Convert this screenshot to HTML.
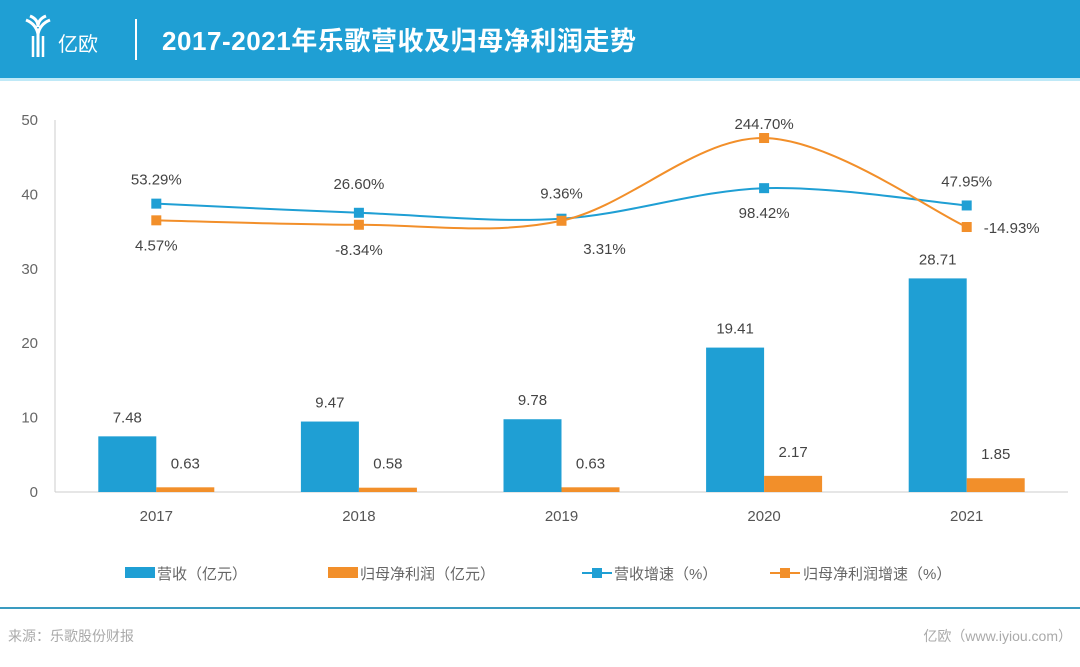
<!DOCTYPE html>
<html><head><meta charset="utf-8"><style>
body{margin:0;width:1080px;height:662px;overflow:hidden;background:#fff;font-family:"Liberation Sans","Noto Sans CJK SC",sans-serif}
svg text{font-family:"Liberation Sans","Noto Sans CJK SC",sans-serif}
</style></head><body>
<svg width="1080" height="662" viewBox="0 0 1080 662">
<rect x="0" y="0" width="1080" height="78" fill="#1f9fd4"/>
<rect x="0" y="78" width="1080" height="3" fill="#bfe9f7"/>
<g stroke="#fff" stroke-width="3" fill="none">
<path d="M26 20 Q36 24 38 34 L38 57 M50 20 Q40 24 38 34 M30 16 Q38 19 38 27 M46 16 Q38 19 38 27"/>
<path d="M33 36 L33 57 M43 36 L43 57" stroke-width="2.5"/>
</g>
<text x="58" y="51" font-size="20" fill="#fff">亿欧</text>
<rect x="135" y="19" width="2" height="41" fill="#fff"/>
<text x="162" y="50" font-size="26" font-weight="bold" fill="#fff" textLength="474">2017-2021年乐歌营收及归母净利润走势</text>
<g id="plot"></g>
<g>
<g><rect x="125" y="567" width="30" height="11" fill="#1f9fd4"/><text x="157" y="579" font-size="15" fill="#666">营收（亿元）</text></g>
<g><rect x="328" y="567" width="30" height="11" fill="#f28f2a"/><text x="360" y="579" font-size="15" fill="#666">归母净利润（亿元）</text></g>
<g><line x1="582" y1="573" x2="612" y2="573" stroke="#1f9fd4" stroke-width="2"/><rect x="592" y="568" width="10" height="10" fill="#1f9fd4"/><text x="614" y="579" font-size="15" fill="#666">营收增速（%）</text></g>
<g><line x1="770" y1="573" x2="800" y2="573" stroke="#f28f2a" stroke-width="2"/><rect x="780" y="568" width="10" height="10" fill="#f28f2a"/><text x="803" y="579" font-size="15" fill="#666">归母净利润增速（%）</text></g>
</g>
<rect x="0" y="607" width="1080" height="2" fill="#3a9bc0"/>
<text x="8" y="641" font-size="14" fill="#aaa">来源：乐歌股份财报</text>
<text x="1072" y="641" font-size="14" fill="#aaa" text-anchor="end">亿欧（www.iyiou.com）</text>
</svg>
<script>
const years=["2017","2018","2019","2020","2021"];
const revenue=[7.48,9.47,9.78,19.41,28.71];
const profit=[0.63,0.58,0.63,2.17,1.85];
const revGrowth=[53.29,26.60,9.36,98.42,47.95];
const profitGrowth=[4.57,-8.34,3.31,244.70,-14.93];
const revGrowthLabels=["53.29%","26.60%","9.36%","98.42%","47.95%"];
const profitGrowthLabels=["4.57%","-8.34%","3.31%","244.70%","-14.93%"];
const yTicks=[0,10,20,30,40,50];

const NS="http://www.w3.org/2000/svg";
const g=document.getElementById('plot');
const X0=55,X1=1068,Y0=492,Y50=120;
const band=(X1-X0)/years.length;
const xc=i=>X0+band*(i+0.5);
const y=v=>Y0-(Y0-Y50)*v/50;
const y2=v=>221.9-0.3428*v;
function el(t,a,txt){const e=document.createElementNS(NS,t);for(const k in a)e.setAttribute(k,a[k]);if(txt!==undefined)e.textContent=txt;g.appendChild(e);return e;}

let e=el('line',{x1:X0,y1:Y50,x2:X0,y2:Y0,stroke:'#ccc'});


e=el('line',{x1:X0,y1:Y0,x2:X1,y2:Y0,stroke:'#ccc'});


yTicks.forEach(t=>{
  const l=el('text',{x:38,y:y(t)+5,'font-size':15,fill:'#666','text-anchor':'end'},String(t));
  
  
});
const bw=58;
years.forEach((yr,i)=>{
  const c=xc(i);
  let l=el('text',{x:c,y:Y0+29,'font-size':15,fill:'#555','text-anchor':'middle'},yr);
  
  
  let r=el('rect',{x:c-bw,y:y(revenue[i]),width:bw,height:Y0-y(revenue[i]),fill:'#1f9fd4'});
  
  
  r=el('rect',{x:c,y:y(profit[i]),width:bw,height:Y0-y(profit[i]),fill:'#f28f2a'});
  
  
  l=el('text',{x:c-bw/2,y:y(revenue[i])-14,'font-size':15,fill:'#444','text-anchor':'middle'},revenue[i].toFixed(2));
  
  
  l=el('text',{x:c+bw/2,y:y(profit[i])-19,'font-size':15,fill:'#444','text-anchor':'middle'},profit[i].toFixed(2));
  
  
});
function smooth(pts){
  let d=`M${pts[0][0]},${pts[0][1]}`;
  for(let i=0;i<pts.length-1;i++){
    const p0=pts[i-1]||pts[i],p1=pts[i],p2=pts[i+1],p3=pts[i+2]||p2;
    const k=6;
    d+=` C${p1[0]+(p2[0]-p0[0])/k},${p1[1]+(p2[1]-p0[1])/k} ${p2[0]-(p3[0]-p1[0])/k},${p2[1]-(p3[1]-p1[1])/k} ${p2[0]},${p2[1]}`;
  }
  return d;
}
function series(vals,color,name){
  const pts=vals.map((v,i)=>[xc(i),y2(v)]);
  const p=el('path',{d:smooth(pts),fill:'none',stroke:color,'stroke-width':2});
  
  
  pts.forEach(pt=>{
    const m=el('rect',{x:pt[0]-5,y:pt[1]-5,width:10,height:10,fill:color});
    
    
  });
  return pts;
}
const rp=series(revGrowth,'#1f9fd4','revenue-growth');
const pp=series(profitGrowth,'#f28f2a','profit-growth');
const revOff=[[0,-19],[0,-24],[0,-20],[0,30],[0,-19]];
const proOff=[[0,30],[0,30],[43,33],[0,-9],[45,6]];
rp.forEach((pt,i)=>{
  const l=el('text',{x:pt[0]+revOff[i][0],y:pt[1]+revOff[i][1],'font-size':15,fill:'#444','text-anchor':'middle'},revGrowthLabels[i]);
  
  
});
pp.forEach((pt,i)=>{
  const l=el('text',{x:pt[0]+proOff[i][0],y:pt[1]+proOff[i][1],'font-size':15,fill:'#444','text-anchor':'middle'},profitGrowthLabels[i]);
  
  
});
</script>
</body></html>
